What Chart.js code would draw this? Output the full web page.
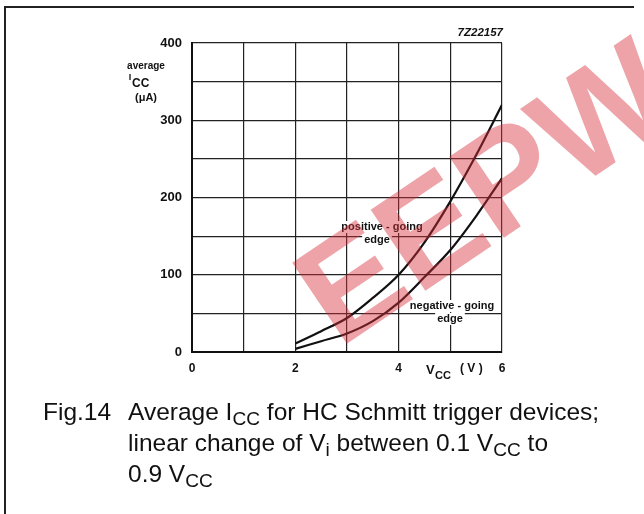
<!DOCTYPE html>
<html>
<head>
<meta charset="utf-8">
<script src="https://cdn.jsdelivr.net/npm/chart.js@4.4.1/dist/chart.umd.min.js"></script>
<style>
    body { margin: 0; background: #fff; }
    #wrap { position: relative; width: 644px; height: 514px; overflow: hidden; }
    #frame { position: absolute; left: 4px; top: 6px; width: 628px; height: 520px;
             border-left: 2px solid #222; border-top: 2px solid #222; }
    .cap { position: absolute; font-family: "Liberation Sans", Arial, sans-serif;
           font-size: 24.5px; line-height: 31px; color: #111; white-space: nowrap; }
    .cap sub { font-size: 0.78em; vertical-align: -0.28em; line-height: 0; }
</style>
</head>
<body>
<div id="wrap">
    <canvas id="lineChart1" width="644" height="514"></canvas>
    <div id="frame"></div>
    <div class="cap" style="left:43px; top:396px;">Fig.14</div>
    <div class="cap" style="left:128px; top:396px;">
        Average I<sub>CC</sub> for HC Schmitt trigger devices;<br>
        linear change of V<sub>i</sub> between 0.1 V<sub>CC</sub> to<br>
        0.9 V<sub>CC</sub>
    </div>
</div>
<script>
// datos
var vccValues = [2, 2.5, 3, 3.5, 4, 4.5, 5, 5.5, 6];
var positiveGoing = [11, 27, 44, 70, 100, 142, 195, 255, 320];
var negativeGoing = [4, 14, 24, 40, 64, 97, 132, 176, 225];
var xTickLabels = [0, 2, 4, 6];
var yTickLabels = [0, 100, 200, 300, 400];

var FONT = '"Liberation Sans", Arial, sans-serif';

function toPoints(xs, ys) {
    var pts = [];
    for (var i = 0; i < xs.length; i++) {
        pts.push({ x: xs[i], y: ys[i] });
    }
    return pts;
}

function labelBox(ctx, text, cx, cy) {
    var w = ctx.measureText(text).width;
    ctx.fillStyle = "#fff";
    ctx.fillRect(cx - w / 2 - 2, cy - 6, w + 4, 12);
    ctx.fillStyle = "#111";
    ctx.fillText(text, cx, cy);
}

// textos extra: titulos de ejes y etiquetas de curvas
var extraText = {
    id: "extraText",
    afterDatasetsDraw: function (chart) {
        var ctx = chart.ctx;
        ctx.save();
        ctx.textBaseline = "middle";
        ctx.textAlign = "center";
        ctx.fillStyle = "#111";

        ctx.font = "bold 10px " + FONT;
        ctx.fillText("average", 146, 66);
        ctx.font = "bold 9px " + FONT;
        ctx.fillText("I", 130, 78);
        ctx.font = "bold 12px " + FONT;
        ctx.textAlign = "left";
        ctx.fillText("CC", 132, 84);
        ctx.textAlign = "center";
        ctx.font = "bold 11px " + FONT;
        ctx.fillText("(\u03bcA)", 146, 98);

        ctx.textAlign = "left";
        ctx.font = "bold 13px " + FONT;
        ctx.fillText("V", 426, 370);
        ctx.font = "bold 11px " + FONT;
        ctx.fillText("CC", 435, 376);
        ctx.font = "bold 12px " + FONT;
        ctx.fillText("( V )", 460, 369);

        ctx.textAlign = "right";
        ctx.font = "italic bold 11.5px " + FONT;
        ctx.fillText("7Z22157", 503, 33);

        ctx.textAlign = "center";
        ctx.font = "bold 11px " + FONT;
        labelBox(ctx, "positive - going", 382, 227);
        labelBox(ctx, "edge", 377, 240);
        labelBox(ctx, "negative - going", 452, 306);
        labelBox(ctx, "edge", 450, 319);
        ctx.restore();
    },
    afterDraw: function (chart) {
        // marca de agua rosa
        var ctx = chart.ctx;
        ctx.save();
        ctx.translate(339, 349);
        ctx.rotate((-34 * Math.PI) / 180);
        ctx.font = "bold 142px " + FONT;
        ctx.fillStyle = "rgba(215, 45, 58, 0.44)";
        ctx.textBaseline = "alphabetic";
        ctx.textAlign = "left";
        ctx.fillText("EEPW", 0, 0);
        ctx.restore();
    },
};

var ctx1 = document.getElementById("lineChart1").getContext("2d");
var lineChart1 = new Chart(ctx1, {
    type: "line",
    data: {
        datasets: [
            {
                label: "positive-going edge",
                data: toPoints(vccValues, positiveGoing),
                borderColor: "#111",
                borderWidth: 2.2,
                pointRadius: 0,
                cubicInterpolationMode: "monotone",
                fill: false,
            },
            {
                label: "negative-going edge",
                data: toPoints(vccValues, negativeGoing),
                borderColor: "#111",
                borderWidth: 2.2,
                pointRadius: 0,
                cubicInterpolationMode: "monotone",
                fill: false,
            },
        ],
    },
    options: {
        responsive: false,
        animation: false,
        events: [],
        layout: {
            padding: { left: 0, right: 142, top: 43, bottom: 0 },
        },
        plugins: {
            legend: { display: false },
            tooltip: { enabled: false },
        },
        scales: {
            x: {
                type: "linear",
                min: 0,
                max: 6,
                afterFit: function (scale) {
                    scale.height = 162;
                },
                border: { display: true, color: "#111", width: 2 },
                grid: { color: "#222", lineWidth: 1.2, drawTicks: false },
                ticks: {
                    stepSize: 1,
                    padding: 9,
                    color: "#111",
                    font: { family: FONT, size: 12, weight: "bold" },
                    callback: function (v) {
                        return xTickLabels.indexOf(v) >= 0 ? String(v) : "";
                    },
                },
            },
            y: {
                min: 0,
                max: 400,
                afterFit: function (scale) {
                    scale.width = 192;
                },
                border: { display: true, color: "#111", width: 2 },
                grid: { color: "#222", lineWidth: 1.2, drawTicks: false },
                ticks: {
                    stepSize: 50,
                    padding: 10,
                    color: "#111",
                    font: { family: FONT, size: 13, weight: "bold" },
                    callback: function (v) {
                        return yTickLabels.indexOf(v) >= 0 ? String(v) : "";
                    },
                },
            },
        },
    },
    plugins: [extraText],
});
</script>
</body>
</html>
